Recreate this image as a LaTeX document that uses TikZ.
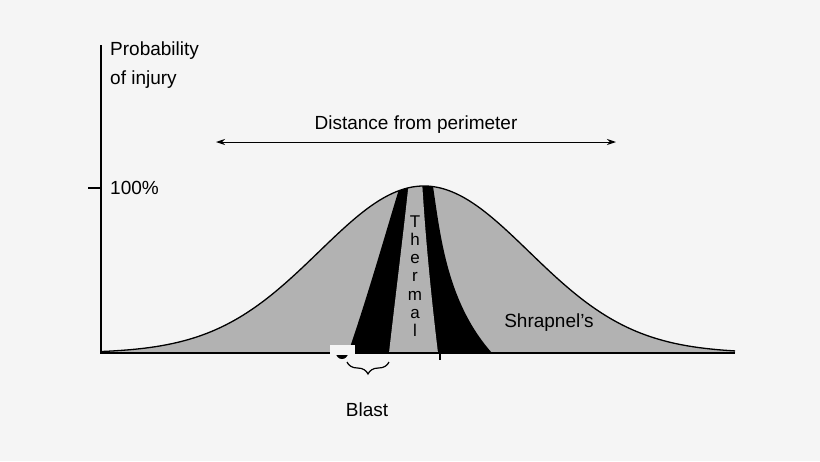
\documentclass[tikz,border=0pt]{standalone}
\usepackage{fontspec}
\setmainfont{Liberation Sans}
\usetikzlibrary{arrows.meta,decorations.pathreplacing}
\begin{document}
\begin{tikzpicture}[x=1pt,y=-1pt,
  lbl/.style={font=\fontsize{19}{23}\selectfont, inner sep=0pt},
  axis/.style={line width=1.2pt}]
\fill[white!96!black] (0,0) rectangle (820,461);
\useasboundingbox (0,0) rectangle (820,461);
% gray fill
\fill[gray!60] (101,353) -- plot[domain=101:735,samples=160,smooth] (\x,{353-167*exp(-0.5*((\x-424)/105)^2)}) -- (735,353) -- cycle;
\begin{scope}
\clip (101,353) -- plot[domain=101:735,samples=160,smooth] (\x,{353-167*exp(-0.5*((\x-424)/105)^2)}) -- (735,353) -- cycle;
\fill[black] (348,353) .. controls (370,290) and (395,200) .. (402,180) -- (432,180)
  .. controls (440,230) and (445,300) .. (492,353) -- cycle;
\fill[gray!60] (389,353) .. controls (395,300) and (405,220) .. (409,180) -- (422,180)
  .. controls (426,250) and (434,320) .. (438,353) -- cycle;
\end{scope}
\draw[line width=1.3pt] plot[domain=101:735,samples=160,smooth] (\x,{353-167*exp(-0.5*((\x-424)/105)^2)});
% axes
\coordinate (o) at (101,353);
\coordinate (top) at (101,45);
\coordinate (xe) at (735,353);
\draw[axis] (top) -- (o) -- (xe);
\draw[axis] (88,188) -- (101,188);
\fill (342,353) circle[radius=6pt];
\fill[white!96!black] (330,354.6) rectangle (355,345);
\draw[axis] (440,353) -- (440,360);
\node[lbl,anchor=west] (pr) at (110,51) {Probability};
\node[lbl,anchor=west] (oi) at (110,80) {of injury};
\node[lbl,anchor=west] (hp) at (110,188) {100\%};
\coordinate (al) at (216,142);
\coordinate (ar) at (616,142);
\draw[line width=1pt,{Stealth[length=9pt,width=6pt]}-{Stealth[length=9pt,width=6pt]}] (al) -- (ar);
\node[lbl] (dist) at (416,125) {Distance from perimeter};
\node[lbl] (shr) at (549,323) {Shrapnel's};
\node[lbl,align=center,font=\fontsize{17}{18.2}\selectfont] (th) at (415,276) {T\\h\\e\\r\\m\\a\\l};
\draw[line width=1.2pt,decorate,decoration={brace,mirror,amplitude=12pt}] (347,362) -- (389,362);
\node[lbl] (bl) at (367,410) {Blast};
\end{tikzpicture}
\end{document}
